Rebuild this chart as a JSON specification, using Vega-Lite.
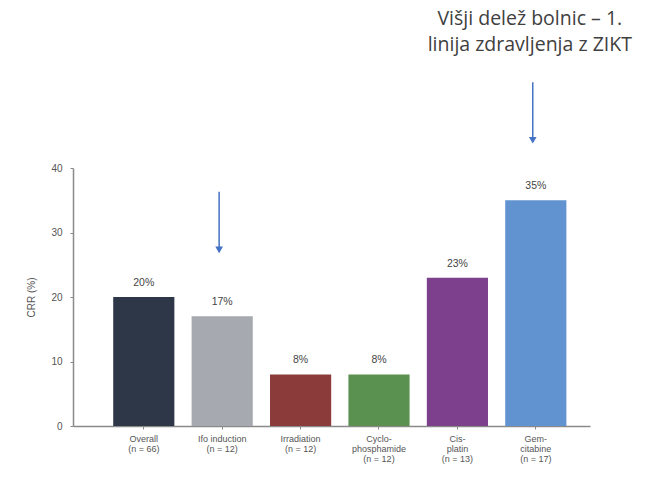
{
  "$schema": "https://vega.github.io/schema/vega-lite/v6.json",
  "autosize": {"type": "none"},
  "width": 517,
  "height": 258,
  "padding": {"left": 73, "top": 168, "right": 56, "bottom": 58},
  "background": "white",
  "config": {"view": {"stroke": null}, "font": "Liberation Sans"},
  "datasets": {
    "bars": [
      {"cat": "Overall|(n = 66)", "crr": 20, "lab": "20%"},
      {"cat": "Ifo induction|(n = 12)", "crr": 17, "lab": "17%"},
      {"cat": "Irradiation|(n = 12)", "crr": 8, "lab": "8%"},
      {"cat": "Cyclo-|phosphamide|(n = 12)", "crr": 8, "lab": "8%"},
      {"cat": "Cis-|platin|(n = 13)", "crr": 23, "lab": "23%"},
      {"cat": "Gem-|citabine|(n = 17)", "crr": 35, "lab": "35%"}
    ],
    "arrows": [
      {"cat": "Ifo induction|(n = 12)", "from": 36.3, "to": 27.3},
      {"cat": "Gem-|citabine|(n = 17)", "from": 53.3, "to": 44.3}
    ],
    "note": [
      {"cat": "Gem-|citabine|(n = 17)", "y": 62.2, "txt": "Višji delež bolnic – 1.\nlinija zdravljenja z ZIKT"}
    ]
  },
  "layer": [
    {
      "data": {"name": "bars"},
      "mark": {"type": "bar"},
      "encoding": {
        "x": {
          "field": "cat", "type": "nominal",
          "scale": {
            "domain": ["Overall|(n = 66)", "Ifo induction|(n = 12)", "Irradiation|(n = 12)", "Cyclo-|phosphamide|(n = 12)", "Cis-|platin|(n = 13)", "Gem-|citabine|(n = 17)"],
            "paddingInner": 0.22, "paddingOuter": 0.407, "align": 0.63
          },
          "axis": {
            "title": null, "labelAngle": 0,
            "labelExpr": "split(datum.label, '|')",
            "labelFontSize": 9, "labelColor": "#555555", "labelLineHeight": 10,
            "labelPadding": 5, "domainColor": "#8a8a8a", "domainWidth": 1.5,
            "tickColor": "#8a8a8a", "tickSize": 3, "labelBaseline": "top"
          }
        },
        "y": {
          "field": "crr", "type": "quantitative",
          "scale": {"domain": [0, 40]},
          "axis": {
            "title": "CRR (%)", "titleFontSize": 10, "titleFontWeight": "normal",
            "titleColor": "#555555", "titlePadding": 14,
            "values": [0, 10, 20, 30, 40], "grid": false,
            "labelFontSize": 10, "labelColor": "#555555", "labelPadding": 8,
            "domainColor": "#8a8a8a", "domainWidth": 1.5,
            "tickColor": "#8a8a8a", "tickSize": 3
          }
        },
        "color": {
          "field": "cat", "type": "nominal", "legend": null,
          "scale": {
            "domain": ["Overall|(n = 66)", "Ifo induction|(n = 12)", "Irradiation|(n = 12)", "Cyclo-|phosphamide|(n = 12)", "Cis-|platin|(n = 13)", "Gem-|citabine|(n = 17)"],
            "range": ["#2d3747", "#a6a9af", "#8b3b3a", "#5a9151", "#7c408d", "#6093cf"]
          }
        }
      }
    },
    {
      "data": {"name": "bars"},
      "mark": {"type": "text", "dy": -9, "fontSize": 10.5, "color": "#444444", "baseline": "bottom"},
      "encoding": {
        "x": {"field": "cat", "type": "nominal"},
        "y": {"field": "crr", "type": "quantitative"},
        "text": {"field": "lab"}
      }
    },
    {
      "data": {"name": "arrows"},
      "mark": {"type": "rule", "color": "#4472c4", "strokeWidth": 1.5},
      "encoding": {
        "x": {"field": "cat", "type": "nominal", "bandPosition": 0.45},
        "y": {"field": "from", "type": "quantitative"},
        "y2": {"field": "to"}
      }
    },
    {
      "data": {"name": "arrows"},
      "mark": {"type": "point", "shape": "triangle-down", "filled": true, "color": "#4472c4", "size": 60, "opacity": 1},
      "encoding": {
        "x": {"field": "cat", "type": "nominal", "bandPosition": 0.45},
        "y": {"field": "to", "type": "quantitative"}
      }
    },
    {
      "data": {"name": "note"},
      "mark": {"type": "text", "font": "Open Sans", "fontSize": 19.5, "color": "#404040", "align": "center", "baseline": "alphabetic", "lineBreak": "\n", "lineHeight": 26, "dx": -6},
      "encoding": {
        "x": {"field": "cat", "type": "nominal"},
        "y": {"field": "y", "type": "quantitative"},
        "text": {"field": "txt"}
      }
    }
  ]
}
